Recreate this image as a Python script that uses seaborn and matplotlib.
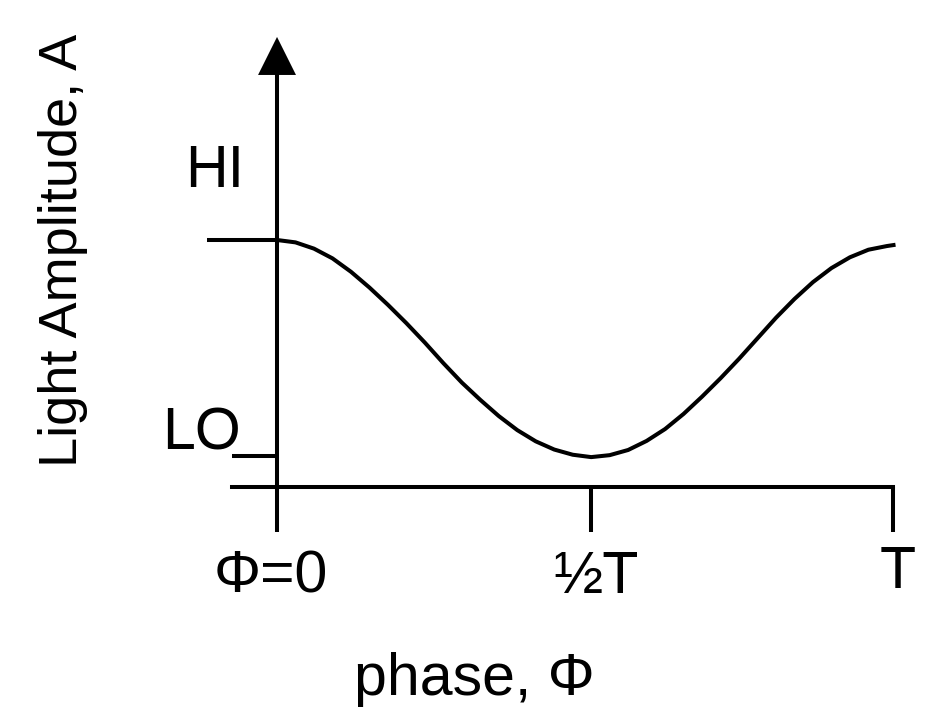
import numpy as np
import pandas as pd
import seaborn as sns
import matplotlib.pyplot as plt

# phase in units of the period T, amplitude with LO = 0 and HI = 1
phase = [0.0, 0.03, 0.06, 0.09, 0.12, 0.15, 0.18, 0.21, 0.24, 0.27, 0.30, 0.33,
         0.36, 0.39, 0.42, 0.45, 0.48, 0.51, 0.54, 0.57, 0.60, 0.63, 0.66, 0.69,
         0.72, 0.75, 0.78, 0.81, 0.84, 0.87, 0.90, 0.93, 0.96, 0.99, 1.004]
amplitude = [1.000, 0.989, 0.960, 0.915, 0.853, 0.780, 0.700, 0.615, 0.525, 0.430,
             0.340, 0.260, 0.185, 0.120, 0.068, 0.030, 0.006, -0.005, 0.004, 0.028,
             0.070, 0.125, 0.195, 0.275, 0.360, 0.450, 0.545, 0.640, 0.727, 0.805,
             0.870, 0.920, 0.955, 0.972, 0.978]

x_ticks = [0.0, 0.51, 1.0]
x_tick_labels = ["\u03a6=0", "\u00bdT", "T"]
y_levels = [1.0, 0.0]
y_level_labels = ["HI", "LO"]

sns.set_theme(style="white")
plt.rcParams["font.family"] = ["Liberation Sans", "DejaVu Sans"]
plt.rcParams["text.color"] = "black"

df = pd.DataFrame({"phase": phase, "amplitude": amplitude})

fig = plt.figure(figsize=(9.3, 7.28), dpi=100)
ax = fig.add_axes([0, 0, 1, 1])
ax.set_xlim(-0.4497, 1.060)
ax.set_ylim(-1.259, 2.111)
ax.axis("off")

lw = 2.9
sns.lineplot(data=df, x="phase", y="amplitude", ax=ax, color="black",
             linewidth=lw, solid_capstyle="butt", solid_joinstyle="round")

# axes drawn by hand, like the sketch
axis_y = -0.1435
tick_bottom = -0.352
ax.plot([0, 0], [tick_bottom, 1.78], color="black", lw=lw, solid_capstyle="butt")
ax.fill([-0.0308, 0.0308, 0], [1.764, 1.764, 1.94], color="black", lw=0)
ax.plot([-0.073, 1.0], [axis_y, axis_y], color="black", lw=lw, solid_capstyle="projecting")
for t in x_ticks[1:]:
    ax.plot([t, t], [axis_y, tick_bottom], color="black", lw=lw, solid_capstyle="butt")

# HI / LO level marks
ax.plot([-0.1136, 0], [y_levels[0]] * 2, color="black", lw=lw, solid_capstyle="butt")
ax.plot([-0.073, 0], [y_levels[1]] * 2, color="black", lw=lw, solid_capstyle="butt")

fs = 42.5
ax.text(-0.102, 1.245, y_level_labels[0], fontsize=fs, ha="center", va="baseline", color="black")
ax.text(-0.123, 0.028, y_level_labels[1], fontsize=fs, ha="center", va="baseline", color="black")

label_pos = [(-0.0097, -0.63), (0.518, -0.634), (1.008, -0.611)]
for (lx, ly), lab in zip(label_pos, x_tick_labels):
    ax.text(lx, ly, lab, fontsize=fs, ha="center", va="baseline", color="black")

ax.text(0.321, -1.106, "phase, \u03a6", fontsize=fs, ha="center", va="baseline", color="black")
ax.text(-0.347, 0.954, "Light Amplitude, A", fontsize=39, rotation=90,
        ha="center", va="center", color="black")

fig.savefig("out.png", dpi=100)
